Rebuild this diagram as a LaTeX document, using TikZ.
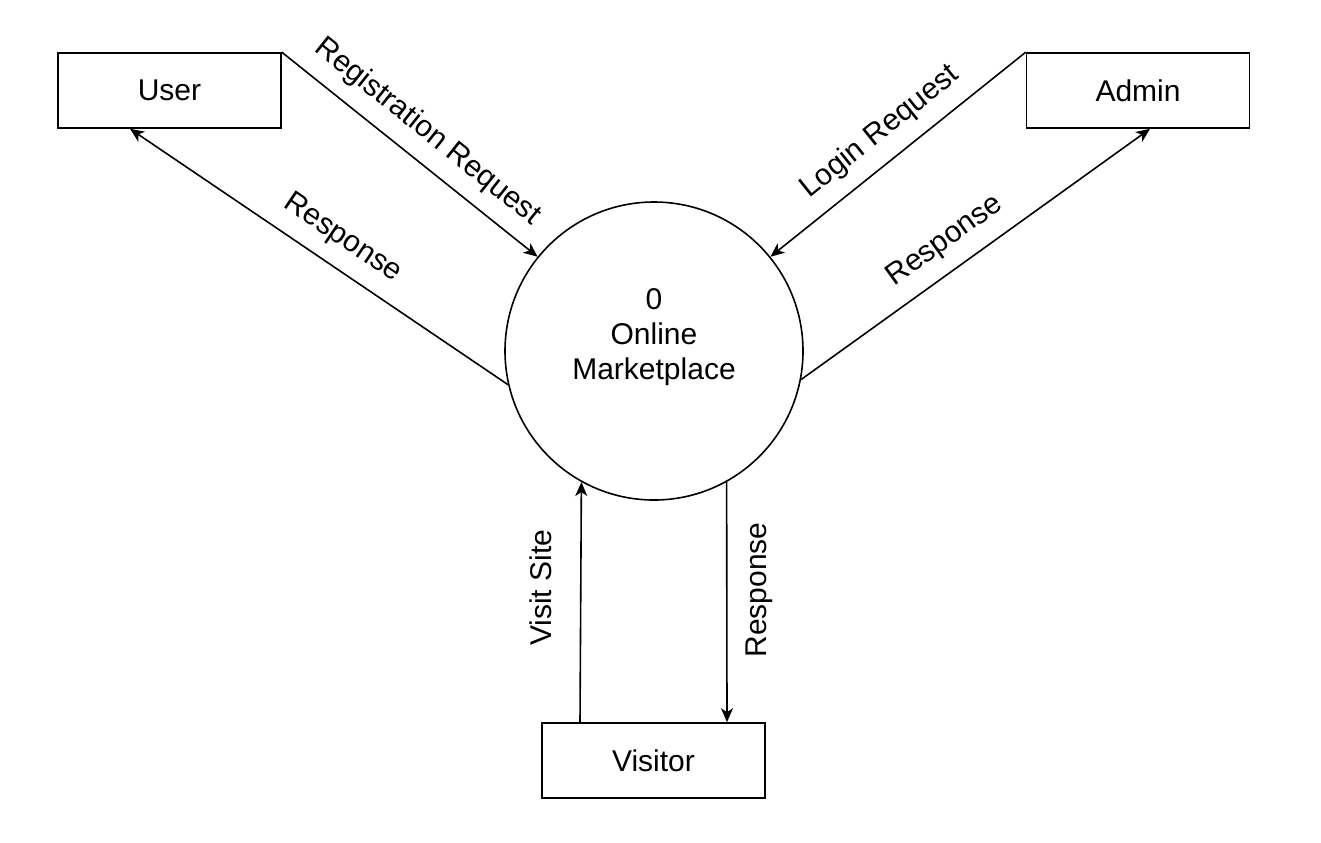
\documentclass[tikz,border=0pt]{standalone}
\usepackage{fontspec}
\setmainfont{Liberation Sans}
\usetikzlibrary{arrows.meta}
\begin{document}
\begin{tikzpicture}[
  x=0.5pt, y=-0.5pt,
  font=\fontsize{15}{17.5}\selectfont,
  line width=0.8pt,
  entity/.style={draw, rectangle, minimum width=111.5pt, minimum height=37.5pt, inner sep=0pt},
  process/.style={draw, circle, minimum size=149pt, inner sep=0pt},
  flow/.style={-{Stealth[length=7pt, width=6pt, inset=2pt]}},
  lbl/.style={sloped, above=4pt, inner sep=3pt}
]
% canvas
\fill[white] (0,0) rectangle (1321,842);
\useasboundingbox (0,0) rectangle (1321,842);

% external entities and the process
\node[entity] (user) at (169.5,90.5) {User};
\node[entity] (admin) at (1138,90.5) {Admin};
\node[entity] (visitor) at (653.5,760.5) {Visitor};
\node[process, label={[align=center, yshift=7pt]center:0\\Online\\Marketplace}] (proc) at (654,351) {};

% data flows
\draw[flow] (user.north east) -- node[lbl, pos=0.5] {Registration Request} (proc.141.8);
\draw[flow] (proc.193.7) -- node[lbl, pos=0.48] {Response} ([xshift=-19.75pt]user.south);
\draw[flow] (admin.north west) -- node[lbl, pos=0.5] {Login Request} (proc.39);
\draw[flow] (proc.-11.6) -- node[lbl, pos=0.46] {Response} ([xshift=6pt]admin.south);
\draw[flow] ([xshift=-36.75pt]visitor.north) -- node[pos=0.56, rotate=90, anchor=south, inner sep=14pt] {Visit Site} (proc.241.5);
\draw[flow] (proc.299.3) -- node[pos=0.45, rotate=90, anchor=north, inner sep=9pt] {Response} ([xshift=36.75pt]visitor.north);
\end{tikzpicture}
\end{document}
